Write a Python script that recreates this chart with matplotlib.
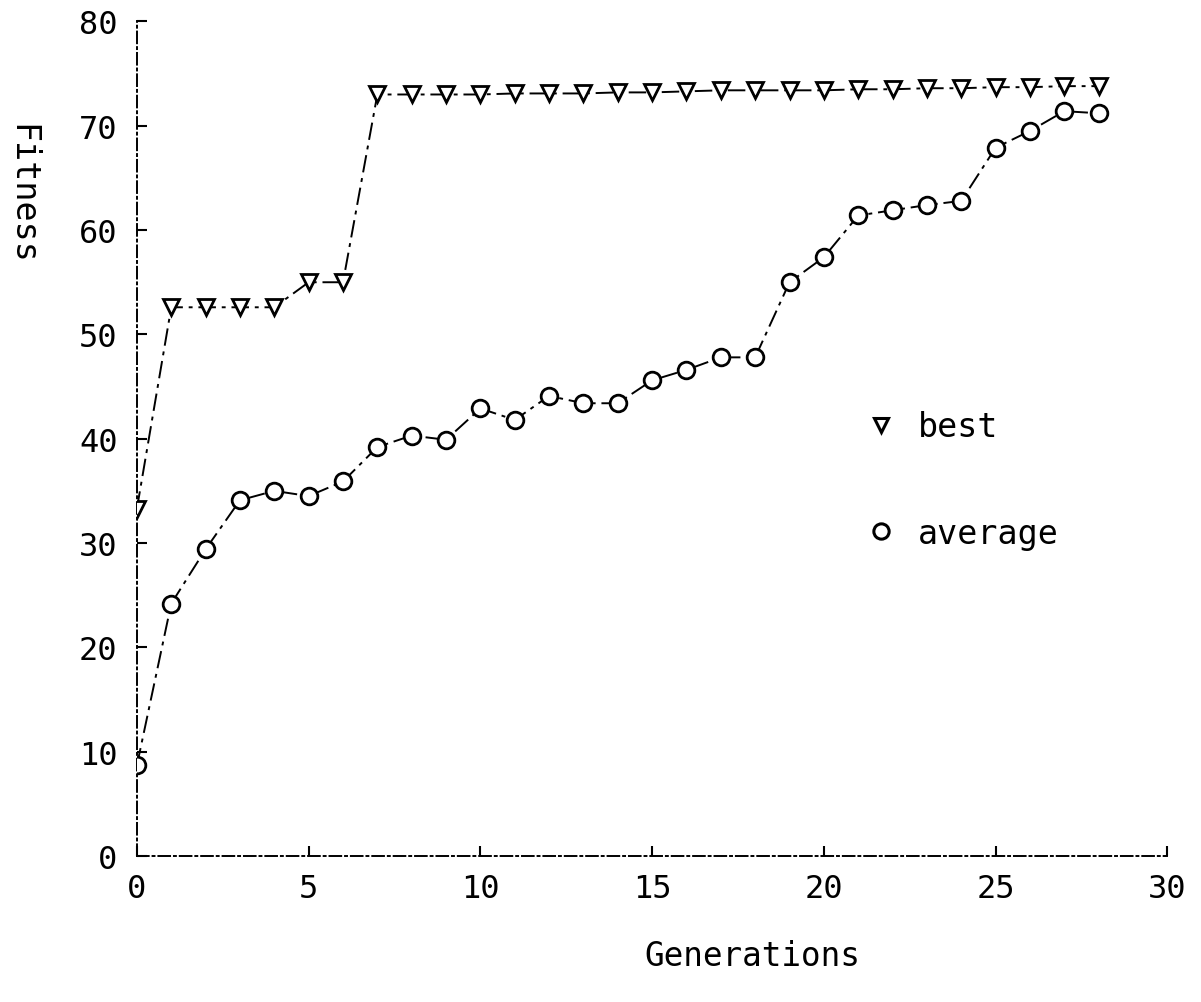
import matplotlib
matplotlib.use("Agg")
import matplotlib.pyplot as plt
from matplotlib.lines import Line2D

generations = list(range(0, 29))
best = [33.3, 52.6, 52.6, 52.6, 52.6, 55.0, 55.0, 73.0, 73.0, 73.0, 73.0,
        73.1, 73.1, 73.1, 73.2, 73.2, 73.3, 73.4, 73.4, 73.4, 73.4, 73.5,
        73.5, 73.6, 73.6, 73.7, 73.7, 73.8, 73.8]
average = [8.7, 24.2, 29.4, 34.1, 35.0, 34.5, 35.9, 39.2, 40.3, 39.9, 42.9,
           41.8, 44.1, 43.4, 43.4, 45.6, 46.6, 47.8, 47.8, 55.0, 57.4, 61.4,
           61.9, 62.4, 62.8, 67.9, 69.5, 71.4, 71.2]
xticks = [0, 5, 10, 15, 20, 25, 30]
yticks = [0, 10, 20, 30, 40, 50, 60, 70, 80]

mono = "DejaVu Sans Mono"
plt.rcParams['font.family'] = mono

fig = plt.figure(figsize=(12.01, 10.03), dpi=100)
ax = fig.add_axes([0.114, 0.1456, 0.858, 0.832])

ls = (0, (9, 3, 2, 3))
ax.plot(generations, best, color='black', lw=1.4, linestyle=ls,
        marker='v', markersize=11, markerfacecolor='white',
        markeredgecolor='black', markeredgewidth=2.0, zorder=3)
ax.plot(generations, average, color='black', lw=1.4, linestyle=ls,
        marker='o', markersize=12, markerfacecolor='white',
        markeredgecolor='black', markeredgewidth=2.0, zorder=3)

ax.set_xlim(0, 30)
ax.set_ylim(0, 80)
ax.set_xticks(xticks)
ax.set_yticks(yticks)
ax.set_xticklabels([str(v) for v in xticks], fontsize=23)
ax.set_yticklabels([str(v) for v in yticks], fontsize=23)
ax.tick_params(direction='in', length=7, width=1.5, pad=14)
ax.tick_params(axis='x', pad=12)

for side in ['top', 'right']:
    ax.spines[side].set_visible(False)
for side in ['left', 'bottom']:
    ax.spines[side].set_linestyle((0, (6, 2, 1, 2)))
    ax.spines[side].set_linewidth(1.4)

handles = [Line2D([], [], linestyle='none', marker='v', markersize=10,
                  markerfacecolor='white', markeredgecolor='black',
                  markeredgewidth=2.2),
           Line2D([], [], linestyle='none', marker='o', markersize=11,
                  markerfacecolor='white', markeredgecolor='black',
                  markeredgewidth=2.2)]
ax.legend(handles, ['best', 'average'], loc='upper left',
          bbox_to_anchor=(0.68, 0.57), frameon=False, fontsize=24,
          labelspacing=2.2, handlelength=0.8, handletextpad=0.7)

fig.text(0.626, 0.046, 'Generations', fontsize=23.5, ha='center', va='center')
fig.text(0.018, 0.806, 'Fitness', fontsize=24, rotation=270,
         ha='center', va='center')

fig.savefig('out.png', dpi=100, facecolor='white')
